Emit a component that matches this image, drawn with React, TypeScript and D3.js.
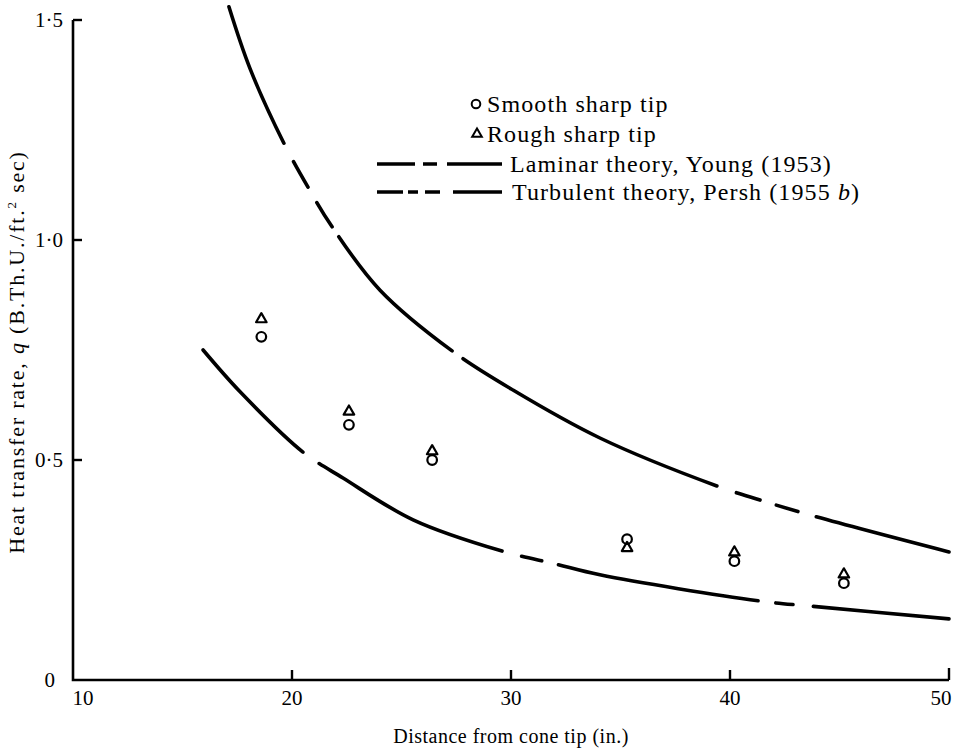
import { useEffect, useRef } from "react";
import * as d3 from "d3";

// distance from cone tip (in.)
const pointX = [18.6, 22.6, 26.4, 35.3, 40.2, 45.2];
const smoothQ = [0.78, 0.58, 0.5, 0.32, 0.27, 0.22];
const roughQ = [0.82, 0.61, 0.52, 0.3, 0.29, 0.24];

// theory curves
const laminarX = [17.12, 18.08, 19.63, 20.73, 21.83, 24.02, 27.31, 30.09, 34.06, 39.4, 41.37, 43.79, 50];
const laminarQ = [1.53, 1.39, 1.22, 1.12, 1.03, 0.886, 0.748, 0.659, 0.55, 0.441, 0.409, 0.373, 0.291];
const turbX = [15.94, 17.63, 20.5, 22.33, 25.53, 29.59, 32.0, 34.06, 41.28, 43.65, 50];
const turbQ = [0.75, 0.655, 0.518, 0.459, 0.364, 0.293, 0.264, 0.239, 0.18, 0.168, 0.139];

// where the drawn curves break (x ranges), a style of the original figure
const laminarGaps = [[19.63, 19.99], [20.73, 21.05], [21.83, 22.05], [27.31, 27.67], [39.4, 40.13], [41.37, 41.96], [43.1, 43.79]];
const turbGaps = [[20.5, 21.1], [29.59, 30.32], [31.4, 32.0], [41.28, 41.92], [42.88, 43.65]];

const xTicks = [10, 20, 30, 40, 50];
const yTicks = [0, 0.5, 1.0, 1.5];
const yTickLabels = ["0", "0·5", "1·0", "1·5"];

const FONT = "Liberation Serif";

export default function App() {
  const svgRef = useRef<SVGSVGElement>(null);

  useEffect(() => {
    const width = 964;
    const height = 750;
    const svg = d3.select(svgRef.current);
    svg.selectAll("*").remove();
    svg.attr("width", width).attr("height", height);

    const x = d3.scaleLinear().domain([10, 50]).range([73, 949]);
    const y = d3.scaleLinear().domain([0, 1.5]).range([680, 20]);

    // axes
    svg.append("path")
      .attr("d", `M${x(10)},${y(1.5)}V${y(0)}H${x(50)}`)
      .attr("fill", "none")
      .attr("stroke", "#000")
      .attr("stroke-width", 2.6);

    yTicks.filter((d) => d > 0).forEach((d) => {
      svg.append("line")
        .attr("x1", x(10)).attr("x2", x(10) + 9)
        .attr("y1", y(d)).attr("y2", y(d))
        .attr("stroke", "#000").attr("stroke-width", 2.4);
    });
    xTicks.filter((d) => d > 10).forEach((d) => {
      svg.append("line")
        .attr("x1", x(d)).attr("x2", x(d))
        .attr("y1", y(0)).attr("y2", y(0) - (d === 50 ? 12 : 10))
        .attr("stroke", "#000").attr("stroke-width", 2.4);
    });

    yTicks.forEach((d, i) => {
      svg.append("text")
        .attr("x", d === 0 ? 55 : 63)
        .attr("y", y(d) + 7)
        .attr("text-anchor", "end")
        .attr("font-family", FONT)
        .attr("font-size", 21)
        .text(yTickLabels[i]);
    });
    xTicks.forEach((d) => {
      svg.append("text")
        .attr("x", d === 10 ? x(d) + 10 : d === 50 ? x(d) - 8 : x(d))
        .attr("y", 705)
        .attr("text-anchor", "middle")
        .attr("font-family", FONT)
        .attr("font-size", 21)
        .text(d);
    });

    svg.append("text")
      .attr("x", 511)
      .attr("y", 743)
      .attr("text-anchor", "middle")
      .attr("font-family", FONT)
      .attr("font-size", 20)
      .attr("letter-spacing", 0.5)
      .text("Distance from cone tip (in.)");

    const yt = svg.append("text")
      .attr("transform", "translate(24,352) rotate(-90)")
      .attr("text-anchor", "middle")
      .attr("font-family", FONT)
      .attr("font-size", 22)
      .attr("letter-spacing", 1.8);
    yt.append("tspan").text("Heat transfer rate, ");
    yt.append("tspan").attr("font-style", "italic").text("q");
    yt.append("tspan").text(" (B.Th.U./ft.");
    yt.append("tspan").attr("dy", -8).attr("font-size", 13).text("2");
    yt.append("tspan").attr("dy", 8).text(" sec)");

    // theory curves with breaks
    const sw = 3.6;
    const drawCurve = (xs: number[], qs: number[], gaps: number[][]) => {
      const pts = xs.map((v, i) => [x(v), y(qs[i])] as [number, number]);
      const path = svg.append("path")
        .attr("d", d3.line().curve(d3.curveCatmullRom)(pts))
        .attr("fill", "none")
        .attr("stroke", "#000")
        .attr("stroke-width", sw)
        .attr("stroke-linecap", "round");
      const node = path.node() as SVGPathElement;
      const total = node.getTotalLength();
      const lenAt = (px: number) => {
        let lo = 0, hi = total;
        for (let k = 0; k < 40; k++) {
          const mid = (lo + hi) / 2;
          if (node.getPointAtLength(mid).x < px) lo = mid; else hi = mid;
        }
        return lo;
      };
      const dash: number[] = [];
      let last = 0;
      gaps.forEach(([a, b]) => {
        const la = lenAt(x(a));
        const lb = lenAt(x(b));
        dash.push(Math.max(0.1, la - last), lb - la + sw);
        last = lb + sw;
      });
      dash.push(total);
      path.attr("stroke-dasharray", dash.join(" "));
    };
    drawCurve(laminarX, laminarQ, laminarGaps);
    drawCurve(turbX, turbQ, turbGaps);

    // data points
    const tri = d3.symbol(d3.symbolTriangle, 48);
    const triSmall = d3.symbol(d3.symbolTriangle, 40);
    pointX.forEach((v, i) => {
      svg.append("circle")
        .attr("cx", x(v)).attr("cy", y(smoothQ[i])).attr("r", 4.8)
        .attr("fill", "none").attr("stroke", "#000").attr("stroke-width", 2.2);
      svg.append("path")
        .attr("d", tri())
        .attr("transform", `translate(${x(v)},${y(roughQ[i])})`)
        .attr("fill", "none").attr("stroke", "#000").attr("stroke-width", 2.2)
        .attr("stroke-linejoin", "round");
    });

    // legend
    const lg = svg.append("g")
      .attr("font-family", FONT)
      .attr("font-size", 24)
      .attr("letter-spacing", 1.1);
    lg.append("circle").attr("cx", 476).attr("cy", 104).attr("r", 4.3)
      .attr("fill", "none").attr("stroke", "#000").attr("stroke-width", 2);
    lg.append("text").attr("x", 487).attr("y", 112).text("Smooth sharp tip");
    lg.append("path").attr("d", triSmall()).attr("transform", "translate(477,134)")
      .attr("fill", "none").attr("stroke", "#000").attr("stroke-width", 2);
    lg.append("text").attr("x", 487).attr("y", 142).text("Rough sharp tip");

    lg.append("line").attr("x1", 377).attr("x2", 502).attr("y1", 164).attr("y2", 164)
      .attr("stroke", "#000").attr("stroke-width", sw).attr("stroke-dasharray", "38 8 14 10 55");
    lg.append("text").attr("x", 510).attr("y", 172).text("Laminar theory, Young (1953)");
    lg.append("line").attr("x1", 377).attr("x2", 502).attr("y1", 192).attr("y2", 192)
      .attr("stroke", "#000").attr("stroke-width", sw).attr("stroke-dasharray", "26 5 10 7 15 13 49");
    const tt = lg.append("text").attr("x", 512).attr("y", 200);
    tt.append("tspan").text("Turbulent theory, Persh (1955 ");
    tt.append("tspan").attr("font-style", "italic").text("b");
    tt.append("tspan").text(")");
  }, []);

  return (
    <svg ref={svgRef} style={{ position: "absolute", left: 0, top: 0, background: "#fff" }}></svg>
  );
}
